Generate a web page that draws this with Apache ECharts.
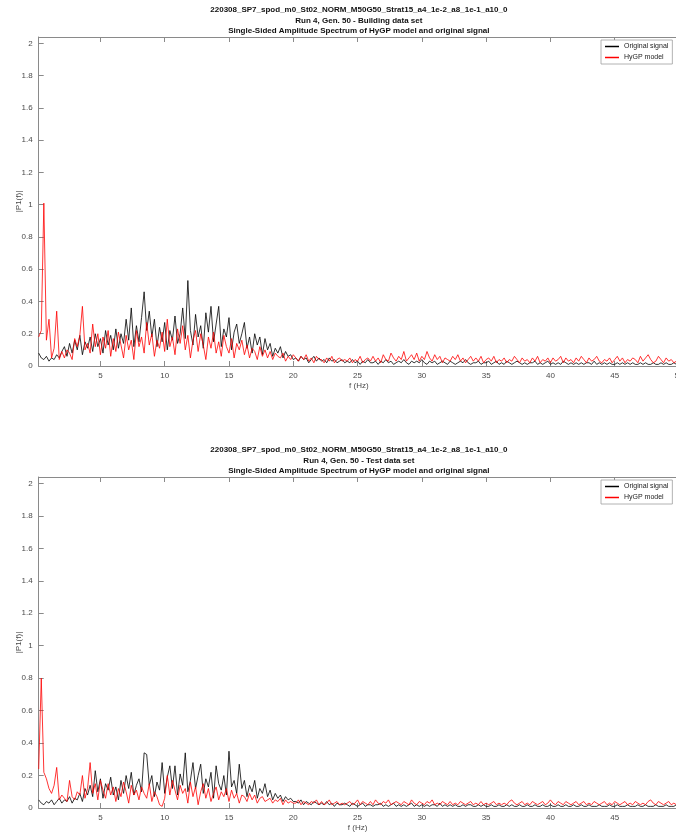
<!DOCTYPE html>
<html>
<head>
<meta charset="utf-8">
<script src="https://cdn.jsdelivr.net/npm/echarts@6/dist/echarts.min.js"></script>
<style>
  html, body { margin: 0; padding: 0; background: #ffffff; }
  #chart { width: 676px; height: 832px; }
</style>
</head>
<body>
<div id="chart"></div>
<script>
// FFT bin spacing of the spectra (Hz); bin k sits at (k + 1) * BIN_HZ
const BIN_HZ = 0.2;

const xTickValues = [5, 10, 15, 20, 25, 30, 35, 40, 45, 50];
const yTickValues = [0, 0.2, 0.4, 0.6, 0.8, 1, 1.2, 1.4, 1.6, 1.8, 2];

const seriesNames = ['Original signal', 'HyGP model'];
const seriesColors = ['#000000', '#ff0000'];

const titleBuilding = [
  '220308_SP7_spod_m0_St02_NORM_M50G50_Strat15_a4_1e-2_a8_1e-1_a10_0',
  'Run 4, Gen. 50 - Building data set',
  'Single-Sided Amplitude Spectrum of HyGP model and original signal'
];
const titleTest = [
  '220308_SP7_spod_m0_St02_NORM_M50G50_Strat15_a4_1e-2_a8_1e-1_a10_0',
  'Run 4, Gen. 50 - Test data set',
  'Single-Sided Amplitude Spectrum of HyGP model and original signal'
];

// Building data set: |P1(f)| of the original signal, 0.2 .. 50 Hz
const buildingOriginal = [
  0.08,0.05,0.04,0.06,0.03,0.05,0.04,0.07,0.05,0.09,
  0.12,0.06,0.14,0.08,0.16,0.10,0.19,0.07,0.15,0.11,
  0.18,0.09,0.20,0.12,0.17,0.08,0.22,0.13,0.19,0.10,
  0.23,0.11,0.20,0.14,0.29,0.16,0.36,0.12,0.25,0.15,
  0.30,0.46,0.22,0.34,0.18,0.29,0.12,0.24,0.15,0.27,
  0.10,0.22,0.16,0.31,0.14,0.20,0.36,0.17,0.53,0.22,
  0.13,0.32,0.18,0.25,0.11,0.33,0.21,0.37,0.15,0.26,
  0.37,0.12,0.23,0.18,0.30,0.10,0.21,0.26,0.14,0.20,
  0.27,0.11,0.18,0.08,0.20,0.13,0.18,0.07,0.17,0.10,
  0.14,0.06,0.11,0.08,0.12,0.05,0.09,0.06,0.07,0.04,
  0.05,0.03,0.06,0.04,0.05,0.02,0.04,0.06,0.03,0.05,
  0.03,0.04,0.02,0.05,0.03,0.04,0.02,0.03,0.04,0.02,
  0.03,0.02,0.04,0.02,0.03,0.01,0.03,0.02,0.04,0.02,
  0.02,0.03,0.01,0.03,0.02,0.04,0.02,0.03,0.01,0.02,
  0.03,0.02,0.04,0.02,0.01,0.03,0.02,0.03,0.02,0.04,
  0.02,0.01,0.03,0.02,0.03,0.01,0.02,0.03,0.02,0.01,
  0.03,0.02,0.01,0.02,0.03,0.02,0.04,0.02,0.01,0.02,
  0.02,0.03,0.01,0.02,0.02,0.03,0.01,0.02,0.03,0.01,
  0.02,0.01,0.03,0.02,0.01,0.02,0.03,0.02,0.01,0.02,
  0.01,0.02,0.02,0.03,0.01,0.02,0.01,0.02,0.03,0.01,
  0.02,0.01,0.02,0.01,0.03,0.02,0.01,0.02,0.01,0.02,
  0.01,0.02,0.01,0.02,0.02,0.01,0.03,0.01,0.02,0.01,
  0.02,0.01,0.02,0.01,0.01,0.02,0.01,0.02,0.01,0.02,
  0.01,0.02,0.01,0.01,0.02,0.01,0.02,0.01,0.01,0.02,
  0.01,0.01,0.02,0.01,0.02,0.01,0.01,0.02,0.01,0.01
];

// Building data set: |P1(f)| of the HyGP model output
const buildingModel = [
  0.18,0.22,1.01,0.16,0.29,0.05,0.11,0.34,0.04,0.09,
  0.05,0.10,0.08,0.04,0.17,0.12,0.19,0.37,0.10,0.14,
  0.08,0.26,0.12,0.20,0.07,0.18,0.11,0.22,0.06,0.17,
  0.09,0.21,0.13,0.05,0.19,0.10,0.16,0.04,0.22,0.12,
  0.18,0.08,0.27,0.13,0.20,0.06,0.16,0.11,0.21,0.09,
  0.29,0.12,0.18,0.07,0.23,0.14,0.25,0.10,0.19,0.05,
  0.16,0.22,0.09,0.20,0.13,0.04,0.18,0.11,0.21,0.08,
  0.15,0.06,0.19,0.12,0.08,0.17,0.05,0.14,0.10,0.16,
  0.07,0.13,0.05,0.11,0.09,0.04,0.12,0.06,0.10,0.05,
  0.09,0.04,0.08,0.06,0.05,0.08,0.03,0.06,0.04,0.07,
  0.05,0.03,0.06,0.04,0.07,0.03,0.05,0.02,0.06,0.04,
  0.04,0.02,0.05,0.03,0.06,0.02,0.04,0.05,0.03,0.04,
  0.03,0.05,0.02,0.04,0.03,0.06,0.02,0.04,0.05,0.03,
  0.06,0.03,0.05,0.02,0.07,0.04,0.03,0.08,0.05,0.03,
  0.06,0.04,0.09,0.03,0.05,0.07,0.04,0.08,0.03,0.06,
  0.04,0.09,0.05,0.03,0.07,0.04,0.06,0.02,0.05,0.04,
  0.03,0.06,0.04,0.07,0.03,0.05,0.02,0.04,0.06,0.03,
  0.05,0.03,0.06,0.02,0.04,0.05,0.03,0.06,0.02,0.04,
  0.03,0.05,0.02,0.04,0.03,0.06,0.04,0.02,0.05,0.03,
  0.04,0.02,0.05,0.03,0.06,0.02,0.04,0.03,0.05,0.02,
  0.05,0.03,0.04,0.06,0.02,0.05,0.03,0.04,0.02,0.05,
  0.03,0.06,0.04,0.02,0.05,0.03,0.04,0.06,0.03,0.02,
  0.04,0.03,0.05,0.02,0.04,0.06,0.03,0.05,0.02,0.04,
  0.03,0.05,0.04,0.02,0.06,0.03,0.05,0.07,0.04,0.02,
  0.03,0.06,0.04,0.02,0.05,0.03,0.04,0.02,0.03,0.02
];

// Test data set: |P1(f)| of the original signal, 0.2 .. 49.8 Hz
const testOriginal = [
  0.05,0.03,0.02,0.04,0.03,0.05,0.02,0.04,0.06,0.03,
  0.05,0.04,0.07,0.03,0.06,0.05,0.09,0.04,0.12,0.08,
  0.14,0.07,0.23,0.10,0.18,0.06,0.15,0.11,0.19,0.08,
  0.13,0.05,0.17,0.09,0.20,0.12,0.22,0.08,0.14,0.18,
  0.10,0.34,0.33,0.14,0.20,0.07,0.16,0.11,0.28,0.09,
  0.19,0.26,0.12,0.26,0.08,0.21,0.14,0.34,0.10,0.17,
  0.28,0.12,0.20,0.27,0.09,0.18,0.13,0.22,0.06,0.26,
  0.15,0.11,0.20,0.08,0.35,0.13,0.17,0.09,0.27,0.12,
  0.17,0.07,0.14,0.10,0.17,0.06,0.12,0.09,0.15,0.07,
  0.11,0.05,0.09,0.06,0.08,0.04,0.07,0.05,0.06,0.04,
  0.04,0.03,0.05,0.02,0.04,0.03,0.02,0.04,0.03,0.02,
  0.03,0.02,0.04,0.02,0.03,0.01,0.03,0.02,0.02,0.03,
  0.02,0.01,0.03,0.02,0.01,0.02,0.03,0.01,0.02,0.02,
  0.01,0.02,0.02,0.03,0.01,0.02,0.01,0.02,0.03,0.01,
  0.02,0.01,0.02,0.01,0.02,0.03,0.01,0.02,0.01,0.02,
  0.01,0.02,0.01,0.02,0.02,0.01,0.03,0.01,0.02,0.01,
  0.02,0.01,0.02,0.01,0.01,0.02,0.01,0.02,0.02,0.01,
  0.01,0.02,0.01,0.02,0.01,0.01,0.02,0.01,0.01,0.02,
  0.01,0.01,0.02,0.01,0.02,0.01,0.01,0.02,0.01,0.01,
  0.02,0.01,0.01,0.02,0.01,0.01,0.02,0.01,0.01,0.02,
  0.01,0.01,0.02,0.01,0.01,0.02,0.01,0.01,0.02,0.01,
  0.01,0.02,0.01,0.01,0.02,0.01,0.01,0.01,0.02,0.01,
  0.01,0.01,0.02,0.01,0.01,0.02,0.01,0.01,0.01,0.02,
  0.01,0.01,0.01,0.02,0.01,0.01,0.02,0.01,0.01,0.01,
  0.02,0.01,0.01,0.01,0.02,0.01,0.01,0.01,0.02
];

// Test data set: |P1(f)| of the HyGP model output
const testModel = [
  0.24,0.80,0.22,0.18,0.12,0.09,0.14,0.25,0.05,0.08,
  0.06,0.04,0.17,0.07,0.05,0.10,0.08,0.20,0.06,0.12,
  0.28,0.09,0.15,0.05,0.17,0.11,0.06,0.15,0.08,0.13,
  0.04,0.12,0.07,0.16,0.10,0.03,0.14,0.08,0.11,0.05,
  0.13,0.09,0.06,0.15,0.04,0.10,0.07,0.02,0.01,0.06,
  0.20,0.08,0.17,0.11,0.05,0.14,0.09,0.12,0.03,0.16,
  0.07,0.13,0.02,0.10,0.15,0.06,0.12,0.04,0.09,0.13,
  0.05,0.10,0.07,0.12,0.04,0.11,0.06,0.09,0.03,0.08,
  0.07,0.04,0.09,0.05,0.08,0.03,0.06,0.07,0.04,0.05,
  0.06,0.03,0.05,0.04,0.06,0.02,0.05,0.03,0.04,0.03,
  0.03,0.05,0.02,0.04,0.03,0.02,0.04,0.03,0.05,0.02,
  0.04,0.02,0.03,0.05,0.02,0.03,0.04,0.02,0.03,0.02,
  0.03,0.04,0.02,0.03,0.05,0.02,0.04,0.03,0.02,0.04,
  0.02,0.05,0.03,0.02,0.04,0.03,0.05,0.02,0.03,0.04,
  0.03,0.02,0.04,0.03,0.02,0.05,0.03,0.02,0.04,0.03,
  0.02,0.04,0.03,0.05,0.02,0.03,0.02,0.04,0.03,0.02,
  0.04,0.02,0.03,0.02,0.04,0.03,0.02,0.03,0.04,0.02,
  0.03,0.02,0.04,0.02,0.03,0.02,0.03,0.04,0.02,0.03,
  0.02,0.03,0.02,0.04,0.05,0.03,0.02,0.03,0.04,0.02,
  0.03,0.02,0.04,0.03,0.02,0.03,0.04,0.02,0.03,0.05,
  0.03,0.02,0.04,0.03,0.02,0.04,0.03,0.02,0.03,0.04,
  0.02,0.03,0.04,0.02,0.03,0.02,0.04,0.03,0.02,0.03,
  0.04,0.02,0.03,0.02,0.04,0.03,0.02,0.03,0.04,0.02,
  0.03,0.02,0.04,0.03,0.02,0.03,0.02,0.04,0.05,0.03,
  0.02,0.04,0.03,0.02,0.03,0.04,0.02,0.03,0.02
];

const FONT = '"Liberation Sans", Arial, Helvetica, sans-serif';
const AXIS_COLOR = '#8a8a8a';
const LABEL_COLOR = '#4a4a4a';

// pair each amplitude with the frequency of its bin
function toPairs(values) {
  return values.map((v, k) => [+(BIN_HZ * (k + 1)).toFixed(1), v]);
}

// frequency of the last bin of a spectrum
function lastBin(values) {
  return +(BIN_HZ * values.length).toFixed(1);
}

// geometry of the two panels
const panels = [
  { top: 37, height: 329, width: 640.3, title: titleBuilding, titleTop: 5,
    orig: buildingOriginal, model: buildingModel, legendTop: 40 },
  { top: 477, height: 331, width: 637.7, title: titleTest, titleTop: 445,
    orig: testOriginal, model: testModel, legendTop: 480 }
];
const GRID_LEFT = 38.7;
const Y_MAX = 2.04;

const grids = [], xAxes = [], yAxes = [], series = [], legends = [], graphics = [];

panels.forEach((p, i) => {
  grids.push({ left: GRID_LEFT, top: p.top, width: p.width, height: p.height,
    containLabel: false, outerBoundsMode: 'none' });
  const xMax = lastBin(p.orig);

  // bottom x axis: labels and inward ticks
  xAxes.push({
    type: 'value', gridIndex: i, position: 'bottom', min: BIN_HZ, max: xMax,
    name: 'f (Hz)', nameLocation: 'middle', nameGap: 16, nameMoveOverlap: false,
    nameTextStyle: { fontFamily: FONT, fontSize: 8, color: LABEL_COLOR },
    axisLine: { show: true, onZero: false, lineStyle: { color: AXIS_COLOR, width: 1 } },
    axisTick: { show: true, inside: true, length: 5, customValues: xTickValues,
      lineStyle: { color: AXIS_COLOR, width: 1 } },
    axisLabel: { customValues: xTickValues, margin: 6, fontFamily: FONT, fontSize: 8,
      color: LABEL_COLOR },
    splitLine: { show: false }
  });
  // top x axis: box edge with mirrored ticks
  xAxes.push({
    type: 'value', gridIndex: i, position: 'top', min: BIN_HZ, max: xMax,
    axisLine: { show: true, onZero: false, lineStyle: { color: AXIS_COLOR, width: 1 } },
    axisTick: { show: true, inside: true, length: 5, customValues: xTickValues,
      lineStyle: { color: AXIS_COLOR, width: 1 } },
    axisLabel: { show: false },
    splitLine: { show: false }
  });
  // left y axis with labels
  yAxes.push({
    type: 'value', gridIndex: i, position: 'left', min: 0, max: Y_MAX,
    name: '|P1(f)|', nameLocation: 'middle', nameGap: 16, nameRotate: 90,
    nameMoveOverlap: false,
    nameTextStyle: { fontFamily: FONT, fontSize: 8, color: LABEL_COLOR },
    axisLine: { show: true, onZero: false, lineStyle: { color: AXIS_COLOR, width: 1 } },
    axisTick: { show: true, inside: true, length: 5, customValues: yTickValues,
      lineStyle: { color: AXIS_COLOR, width: 1 } },
    axisLabel: { customValues: yTickValues, margin: 6, fontFamily: FONT, fontSize: 8,
      color: LABEL_COLOR, formatter: v => String(+v.toFixed(1)) },
    splitLine: { show: false }
  });
  // right y axis: box edge only
  yAxes.push({
    type: 'value', gridIndex: i, position: 'right', min: 0, max: Y_MAX,
    axisLine: { show: true, onZero: false, lineStyle: { color: AXIS_COLOR, width: 1 } },
    axisTick: { show: false }, axisLabel: { show: false }, splitLine: { show: false }
  });

  seriesNames.forEach((name, s) => {
    series.push({
      name: name, type: 'line', xAxisIndex: 2 * i, yAxisIndex: 2 * i,
      data: toPairs(s === 0 ? p.orig : p.model), symbol: 'none', showSymbol: false,
      sampling: null, lineStyle: { color: seriesColors[s], width: 0.8 },
      itemStyle: { color: seriesColors[s] }, emphasis: { disabled: true }, z: 2 + s
    });
  });

  legends.push({
    data: seriesNames.map((name, s) => ({
      name: name, icon: 'rect', itemStyle: { color: seriesColors[s], borderWidth: 0 }
    })),
    orient: 'vertical', left: 601, top: p.legendTop,
    itemWidth: 14, itemHeight: 1.5, itemGap: 4, padding: [3, 4, 3, 4],
    borderColor: '#a0a0a0', borderWidth: 0.8, backgroundColor: '#ffffff',
    selectedMode: false,
    textStyle: { fontFamily: FONT, fontSize: 7, color: '#222222' }
  });

  graphics.push({
    type: 'text', x: GRID_LEFT + 640.3 / 2, y: p.titleTop,
    style: {
      text: p.title.join('\n'), fontFamily: FONT, fontSize: 8, fontWeight: 'bold',
      lineHeight: 10.5, fill: '#111111', textAlign: 'center', textVerticalAlign: 'top'
    },
    silent: true
  });
});

const chart = echarts.init(document.getElementById('chart'), null, { renderer: 'canvas' });
chart.setOption({
  animation: false,
  backgroundColor: '#ffffff',
  grid: grids,
  xAxis: xAxes,
  yAxis: yAxes,
  legend: legends,
  series: series,
  graphic: graphics
});
</script>
</body>
</html>
